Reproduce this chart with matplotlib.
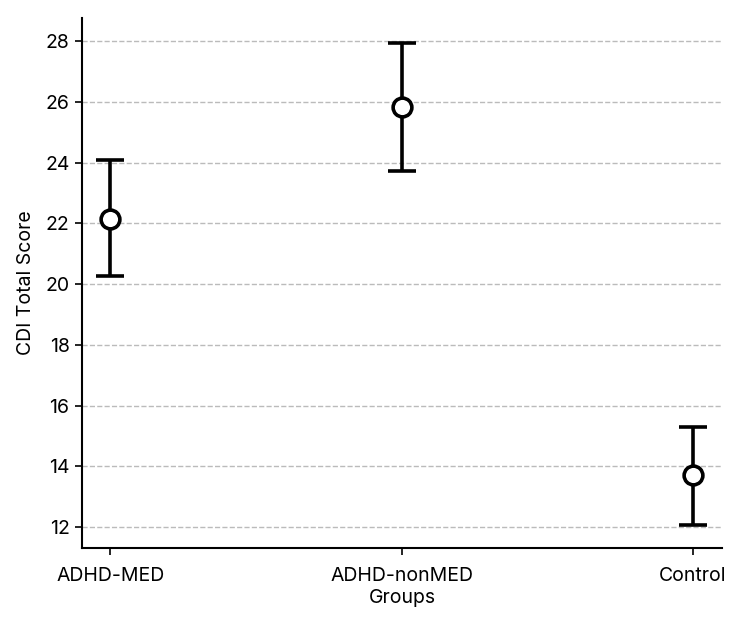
import matplotlib
matplotlib.use("Agg")
import matplotlib.pyplot as plt
import numpy as np

plt.rcParams['font.family'] = ['Inter', 'DejaVu Sans']

groups = ["ADHD-MED", "ADHD-nonMED", "Control"]
means = [22.15, 25.83, 13.70]
upper = [24.07, 27.93, 15.30]
lower = [20.27, 23.72, 12.07]

means = np.array(means); upper = np.array(upper); lower = np.array(lower)
yerr = [means - lower, upper - means]
x = np.arange(len(groups))

fig = plt.figure(figsize=(7.5, 6.25), dpi=100)
ax = fig.add_axes([0.1093, 0.1232, 0.8534, 0.848])
ax.errorbar(x, means, yerr=yerr, fmt="o", color="black", ecolor="black",
            elinewidth=2.6, capsize=10, capthick=2.8, ms=13.5,
            mfc="white", mec="black", mew=2.6, zorder=3)
ax.set_xticks(x); ax.set_xticklabels(groups, fontsize=14)
ax.set_yticks(np.arange(12, 29, 2))
ax.tick_params(axis="y", labelsize=14, length=5, width=1.2, pad=4)
ax.tick_params(axis="x", length=5, width=1.2, pad=8.5)
ax.set_xlim(-0.097, 2.1)
ax.set_ylim(11.31, 28.76)
ax.yaxis.grid(True, ls="--", color="#bbbbbb", lw=1.0, zorder=0)
ax.set_axisbelow(True)
for s in ["top", "right"]:
    ax.spines[s].set_visible(False)
for s in ["left", "bottom"]:
    ax.spines[s].set_linewidth(1.5)
ax.set_xlabel("Groups", fontsize=14, labelpad=3)
ax.set_ylabel("CDI Total Score", fontsize=14, labelpad=7)
fig.savefig("out.png", dpi=100)
